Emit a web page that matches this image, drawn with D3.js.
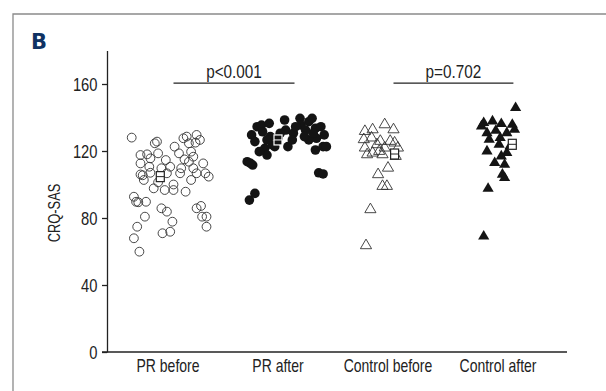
<!DOCTYPE html>
<html>
<head>
<meta charset="utf-8">
<script src="https://cdn.jsdelivr.net/npm/d3@7"></script>
<style>
  html, body { margin: 0; padding: 0; background: #fff; }
  svg { display: block; }
  text { font-family: "Liberation Sans", "DejaVu Sans", sans-serif; fill: #222; }
</style>
</head>
<body>
<div id="chart"></div>
<script>
const WIDTH = 606;
const HEIGHT = 391;
const NARROW = 0.8; // squeeze to mimic a condensed face

// categories and y ticks
const categories = ['PR before', 'PR after', 'Control before', 'Control after'];
const yTicks = [0, 40, 80, 120, 160];

// points: [position along x (group index + jitter), CRQ-SAS]
const prBefore = [
  [-0.33, 128], [-0.25, 117.6], [-0.25, 112.6], [-0.25, 106], [-0.22, 102.7],
  [-0.19, 118], [-0.17, 110.6], [-0.16, 107], [-0.16, 115.6], [-0.12, 124.6],
  [-0.10, 125.6], [-0.09, 118.6], [-0.13, 97.7], [-0.09, 101.3], [-0.03, 96.7],
  [-0.02, 114.6], [0.02, 110.6], [0.05, 96.7], [0.05, 100], [0.06, 122.6],
  [0.10, 118.6], [0.11, 106.7], [0.12, 109.7], [0.14, 127.6], [0.17, 128.6],
  [0.19, 124.6], [0.19, 113.6], [0.16, 95.7], [0.21, 102.7], [0.21, 119.6],
  [0.23, 116.6], [0.25, 125], [0.26, 129.6], [0.29, 126.6], [0.26, 106.7],
  [0.32, 112.6], [0.34, 106.7], [0.37, 104.7], [0.30, 87.2], [0.26, 85.8],
  [0.31, 80.8], [0.35, 80.8], [0.35, 74.8], [-0.31, 92.7], [-0.29, 89.7],
  [-0.27, 89.4], [-0.20, 89.7], [-0.21, 80.8], [-0.28, 74.8], [-0.31, 67.9],
  [-0.26, 59.9], [-0.06, 85.8], [-0.01, 83.8], [0.04, 77.8], [0.02, 71.8],
  [-0.05, 70.9], [-0.01, 106.7], [-0.06, 109.7], [0.15, 115], [0.23, 109.7],
  [-0.23, 105.5]
];
const prAfter = [
  [0.74, 90.7], [0.79, 94.7], [0.72, 113.6], [0.77, 111.6], [0.75, 112.6],
  [0.76, 129.6], [0.79, 125.6], [0.81, 134.5], [0.85, 135.5], [0.86, 131.5],
  [0.88, 121.6], [0.90, 117.6], [0.92, 136.5], [0.93, 128.6], [0.95, 123.6],
  [0.97, 122.6], [1.06, 138.5], [1.07, 132.5], [1.09, 122.6], [1.14, 130.6],
  [1.20, 139.5], [1.21, 135.5], [1.25, 132.5], [1.28, 137.5], [1.31, 139.5],
  [1.34, 133.5], [1.35, 127.6], [1.39, 134.5], [1.42, 129.6], [1.41, 122.6],
  [1.34, 120.6], [1.37, 107], [1.41, 106.3], [1.13, 126.6], [1.16, 134.5],
  [1.02, 130.6], [0.90, 126.6], [0.83, 119.6], [1.28, 126.6], [1.44, 122.6],
  [1.00, 127.6], [1.24, 128.6], [1.32, 130.6]
];
const controlBefore = [
  [1.79, 132.5], [1.86, 133.5], [1.97, 136.5], [2.05, 133.5], [1.78, 127.6],
  [1.85, 128.6], [1.93, 126.6], [2.02, 126.6], [2.06, 125.6], [2.09, 122.6],
  [1.81, 118.6], [1.86, 119.6], [1.92, 120.6], [1.97, 122.6], [1.95, 118.6],
  [2.07, 117.6], [2.00, 110.6], [1.91, 106.7], [1.99, 99.7], [1.95, 99.7],
  [1.84, 85.8], [1.80, 64.3], [1.90, 124.6], [1.79, 122.6]
];
const controlAfter = [
  [3.16, 146.5], [2.87, 137.5], [2.95, 138.5], [3.03, 136.9], [3.13, 136.5],
  [2.90, 131.5], [2.98, 132.9], [3.08, 131.5], [3.15, 133.5], [2.92, 127.6],
  [3.02, 128.6], [3.01, 124.6], [3.11, 123.6], [2.90, 120.6], [3.08, 119.6],
  [3.03, 117.6], [2.97, 113.6], [3.06, 112.6], [3.04, 106.7], [3.06, 104.7],
  [2.91, 98.3], [2.87, 69.8], [2.85, 135.5]
];
// group means: [position, value]
const means = [[-0.07, 104.7], [1.00, 126.6], [2.06, 118.2], [3.13, 124]];
// significance brackets: [from, to, level, label]
const brackets = [[0.05, 1.15, 160.5, 'p<0.001'], [2.05, 3.14, 160.5, 'p=0.702']];

const svg = d3.select('#chart').append('svg')
  .attr('width', WIDTH)
  .attr('height', HEIGHT);

// panel frame
svg.append('path')
  .attr('d', `M13,${HEIGHT} V14 H${WIDTH}`)
  .attr('fill', 'none')
  .attr('stroke', '#8a8a8a')
  .attr('stroke-width', 1.3);

svg.append('text')
  .attr('x', 31).attr('y', 49)
  .style('font-family', '"DejaVu Sans", sans-serif')
  .style('font-weight', 'bold')
  .style('font-size', '21px')
  .style('fill', '#0f3263')
  .text('B');

const x = d3.scaleLinear().domain([0, 3]).range([168, 498]);
const y = d3.scaleLinear().domain([0, 180]).range([352, 50.5]);

// y axis
const yAxis = svg.append('g')
  .attr('transform', 'translate(107,0)')
  .call(d3.axisLeft(y).tickValues(yTicks).tickSize(5).tickPadding(4).tickSizeOuter(0));
yAxis.select('.domain').attr('stroke', '#222').attr('stroke-width', 1.3);
yAxis.selectAll('.tick line').attr('stroke', '#222').attr('stroke-width', 1.3);
yAxis.selectAll('.tick text')
  .attr('font-family', null)
  .attr('font-size', null)
  .style('font-size', '18px')
  .attr('fill', '#222')
  .attr('x', -9.5 / 0.82)
  .attr('dy', '0.35em')
  .attr('transform', 'scale(0.82,1)');

// x axis baseline and labels
svg.append('line')
  .attr('x1', 102).attr('x2', 567)
  .attr('y1', y(0)).attr('y2', y(0))
  .attr('stroke', '#222').attr('stroke-width', 1.3);

svg.append('g').selectAll('text')
  .data(categories)
  .enter().append('text')
  .attr('transform', (d, i) => `translate(${x(i)},372) scale(${NARROW},1)`)
  .attr('text-anchor', 'middle')
  .style('font-size', '17.5px')
  .text(d => d);

svg.append('text')
  .attr('transform', `translate(59.5,${y(83)}) rotate(-90) scale(0.78,1)`)
  .attr('text-anchor', 'middle')
  .style('font-size', '16.5px')
  .text('CRQ-SAS');

// significance brackets
const br = svg.append('g').selectAll('g').data(brackets).enter().append('g');
br.append('line')
  .attr('x1', d => x(d[0])).attr('x2', d => x(d[1]))
  .attr('y1', d => y(d[2])).attr('y2', d => y(d[2]))
  .attr('stroke', '#222').attr('stroke-width', 1.3);
br.append('text')
  .attr('transform', d => `translate(${(x(d[0]) + x(d[1])) / 2},${y(d[2]) - 5.5}) scale(0.85,1)`)
  .attr('text-anchor', 'middle')
  .style('font-size', '18px')
  .text(d => d[3]);

const tri = 'M0,-5.2 L5.6,4.4 L-5.6,4.4 Z';

svg.append('g').selectAll('circle')
  .data(prBefore).enter().append('circle')
  .attr('cx', d => x(d[0])).attr('cy', d => y(d[1]))
  .attr('r', 4.4)
  .attr('fill', 'none').attr('stroke', '#333').attr('stroke-width', 0.9);

svg.append('g').selectAll('circle')
  .data(prAfter).enter().append('circle')
  .attr('cx', d => x(d[0])).attr('cy', d => y(d[1]))
  .attr('r', 4.8)
  .attr('fill', '#141414');

svg.append('g').selectAll('path')
  .data(controlBefore).enter().append('path')
  .attr('d', tri)
  .attr('transform', d => `translate(${x(d[0])},${y(d[1])})`)
  .attr('fill', 'none').attr('stroke', '#333').attr('stroke-width', 0.9);

svg.append('g').selectAll('path')
  .data(controlAfter).enter().append('path')
  .attr('d', tri)
  .attr('transform', d => `translate(${x(d[0])},${y(d[1])})`)
  .attr('fill', '#141414');

// mean markers
const m = svg.append('g').selectAll('g').data(means).enter().append('g')
  .attr('transform', d => `translate(${x(d[0])},${y(d[1])})`);
m.append('rect')
  .attr('x', -4).attr('y', -5).attr('width', 8).attr('height', 10)
  .attr('fill', (d, i) => i === 1 ? '#141414' : '#fff')
  .attr('stroke', (d, i) => i === 1 ? '#fff' : '#222')
  .attr('stroke-width', 1.2);
m.append('line')
  .attr('x1', -4).attr('x2', 4).attr('y1', 0).attr('y2', 0)
  .attr('stroke', (d, i) => i === 1 ? '#fff' : '#222')
  .attr('stroke-width', 1);
</script>
</body>
</html>
